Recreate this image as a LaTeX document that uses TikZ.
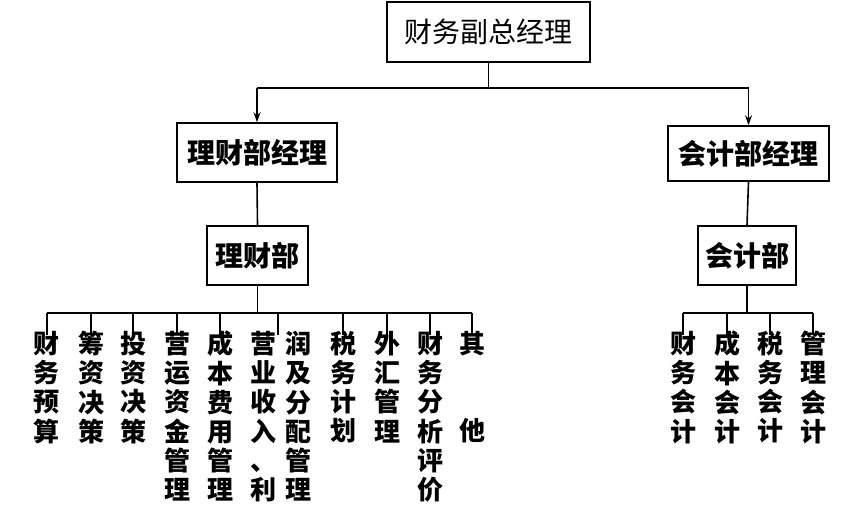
\documentclass[tikz,border=0pt]{standalone}
\usepackage{fontspec}
\setmainfont{Noto Sans CJK SC}
\usetikzlibrary{arrows.meta}
\begin{document}
\begin{tikzpicture}[x=1pt,y=-1pt,
  box/.style={draw,line width=1.6pt,inner sep=0pt,font=\fontsize{28}{30}\selectfont},
  boldbox/.style={box,font=\fontsize{28}{30}\selectfont\bfseries},
  leaf/.style={anchor=north,inner sep=0pt,align=center,font=\fontsize{26}{29.2}\selectfont\bfseries},
  conn/.style={line width=1.6pt},
  arr/.style={conn,-{Stealth[length=10pt,width=7pt]}}]
\useasboundingbox (0,0) rectangle (865,528);
\node[box,minimum width=203pt,minimum height=60pt] (top) at (488.5,32) {财务副总经理};
\node[boldbox,minimum width=160pt,minimum height=59pt] (lm) at (257,152.5) {理财部经理};
\node[boldbox,minimum width=161pt,minimum height=55pt] (km) at (748.5,153.5) {会计部经理};
\node[boldbox,minimum width=101pt,minimum height=59pt] (ld) at (257.5,255.5) {理财部};
\node[boldbox,minimum width=98pt,minimum height=59pt] (kd) at (747,255.5) {会计部};
\coordinate (bus1) at (0,88);
\coordinate (bus2) at (0,313);
% top connectors
\draw[conn] (top.south) -- (top.south |- bus1);
\draw[conn] (lm.north |- bus1) -- (km.north |- bus1);
\draw[arr] (lm.north |- bus1) -- (lm.north);
\draw[arr] (km.north |- bus1) -- (km.north);
\draw[conn] (lm.south) -- (ld.north);
\draw[conn] (km.south) -- (kd.north);
% left leaves
\node[leaf] (a1) at (47,331) {财\\务\\预\\算};
\node[leaf] (a2) at (91,331) {筹\\资\\决\\策};
\node[leaf] (a3) at (133,331) {投\\资\\决\\策};
\node[leaf] (a4) at (177,331) {营\\运\\资\\金\\管\\理};
\node[leaf] (a5) at (220,331) {成\\本\\费\\用\\管\\理};
\node[leaf] (a6a) at (263,331) {营\\业\\收\\入\\、\\利};
\node[leaf] (a6b) at (298,331) {润\\及\\分\\配\\管\\理};
\coordinate (a6) at (278,331);
\node[leaf] (a7) at (343,331) {税\\务\\计\\划};
\node[leaf] (a8) at (387,331) {外\\汇\\管\\理};
\node[leaf] (a9) at (430,331) {财\\务\\分\\析\\评\\价};
\node[leaf] (a10) at (472,331) {其\\\mbox{}\\\mbox{}\\他};
\draw[conn] (ld.south) -- (ld.south |- bus2);
\draw[conn] (a1.north |- bus2) -- (a10.north |- bus2);
\foreach \n in {a1,a2,a3,a4,a5,a7,a8,a9,a10}
  \draw[conn] (\n.north |- bus2) -- ([yshift=-4pt]\n.north);
\draw[conn] (a6 |- bus2) -- ([yshift=-4pt]a6);
% right leaves
\node[leaf] (b1) at (683,331) {财\\务\\会\\计};
\node[leaf] (b2) at (727,331) {成\\本\\会\\计};
\node[leaf] (b3) at (770,331) {税\\务\\会\\计};
\node[leaf] (b4) at (813,331) {管\\理\\会\\计};
\draw[conn] (kd.south) -- (kd.south |- bus2);
\draw[conn] (b1.north |- bus2) -- (b4.north |- bus2);
\foreach \n in {b1,b2,b3,b4}
  \draw[conn] (\n.north |- bus2) -- ([yshift=-4pt]\n.north);
\end{tikzpicture}
\end{document}
